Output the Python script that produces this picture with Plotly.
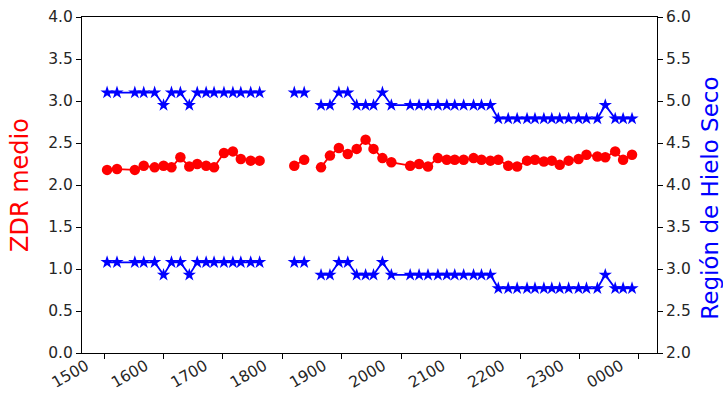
import plotly.graph_objects as go

# Times (HH:MM, day 1 then day 2 after midnight); None values mark missing scans (gaps)
times = ["15:03", "15:13", "15:31", "15:40", "15:51", "16:00", "16:08", "16:17", "16:26",
         "16:34", "16:43", "16:51", "17:01", "17:10", "17:18", "17:28", "17:37",
         "17:55",
         "18:12", "18:22",
         "18:30",
         "18:39", "18:48", "18:57", "19:06", "19:15", "19:24", "19:32", "19:41", "19:50",
         "20:09", "20:18", "20:27", "20:37", "20:46", "20:54", "21:03", "21:13", "21:21",
         "21:30", "21:38", "21:48", "21:57", "22:07", "22:15", "22:24", "22:32", "22:40",
         "22:49", "22:59", "23:07", "23:18", "23:26", "23:36", "23:44", "23:53"]

zdr_medio = [2.18, 2.19, 2.18, 2.23, 2.21, 2.23, 2.21, 2.33, 2.22,
             2.25, 2.23, 2.21, 2.38, 2.40, 2.31, 2.29, 2.29,
             None,
             2.23, 2.30,
             None,
             2.21, 2.35, 2.44, 2.37, 2.43, 2.54, 2.43, 2.32, 2.27,
             2.23, 2.25, 2.22, 2.32, 2.30, 2.30, 2.30, 2.32, 2.30,
             2.29, 2.30, 2.23, 2.22, 2.29, 2.30, 2.28, 2.29, 2.24,
             2.29, 2.31, 2.36, 2.34, 2.33, 2.40, 2.30, 2.36]

hielo_sup = [5.10, 5.10, 5.10, 5.10, 5.10, 4.95, 5.10, 5.10, 4.95,
             5.10, 5.10, 5.10, 5.10, 5.10, 5.10, 5.10, 5.10,
             None,
             5.10, 5.10,
             None,
             4.95, 4.95, 5.10, 5.10, 4.95, 4.95, 4.95, 5.10, 4.95,
             4.95, 4.95, 4.95, 4.95, 4.95, 4.95, 4.95, 4.95, 4.95,
             4.95, 4.79, 4.79, 4.79, 4.79, 4.79, 4.79, 4.79, 4.79,
             4.79, 4.79, 4.79, 4.79, 4.95, 4.79, 4.79, 4.79]

hielo_inf = [3.08, 3.08, 3.08, 3.08, 3.08, 2.93, 3.08, 3.08, 2.93,
             3.08, 3.08, 3.08, 3.08, 3.08, 3.08, 3.08, 3.08,
             None,
             3.08, 3.08,
             None,
             2.93, 2.93, 3.08, 3.08, 2.93, 2.93, 2.93, 3.08, 2.93,
             2.93, 2.93, 2.93, 2.93, 2.93, 2.93, 2.93, 2.93, 2.93,
             2.93, 2.77, 2.77, 2.77, 2.77, 2.77, 2.77, 2.77, 2.77,
             2.77, 2.77, 2.77, 2.77, 2.93, 2.77, 2.77, 2.77]

tick_hours = ["15", "16", "17", "18", "19", "20", "21", "22", "23", "00"]

def to_dt(hm):
    h = int(hm[:2])
    day = "2020-01-01" if h >= 12 else "2020-01-02"
    return f"{day} {hm}:00"

x = [to_dt(t) for t in times]
tickvals = [to_dt(h + ":00") for h in tick_hours]

RED = "#ff0000"
BLUE = "#0000ff"
FONT = "DejaVu Sans"

fig = go.Figure()
fig.add_trace(go.Scatter(x=x, y=zdr_medio, mode="lines+markers", connectgaps=False,
                         line=dict(color=RED, width=1.8),
                         marker=dict(symbol="circle", size=10.5, color=RED),
                         showlegend=False))
fig.add_trace(go.Scatter(x=x, y=hielo_sup, mode="lines+markers", connectgaps=False, yaxis="y2",
                         line=dict(color=BLUE, width=1.8),
                         marker=dict(symbol="star", size=10, color=BLUE),
                         showlegend=False))
fig.add_trace(go.Scatter(x=x, y=hielo_inf, mode="lines+markers", connectgaps=False, yaxis="y2",
                         line=dict(color=BLUE, width=1.8),
                         marker=dict(symbol="star", size=10, color=BLUE),
                         showlegend=False))

axis_common = dict(showline=True, linecolor="black", linewidth=1, ticks="outside",
                   ticklen=5, tickcolor="black", showgrid=False, zeroline=False,
                   automargin=False,
                   tickfont=dict(family=FONT, size=15.5, color="#262626"))

fig.update_layout(
    width=723, height=405,
    margin=dict(l=82, r=66, t=17, b=52),
    paper_bgcolor="white", plot_bgcolor="white",
    xaxis=dict(type="date", range=["2020-01-01 14:37:40", "2020-01-02 00:18:13"],
               tickvals=tickvals, tickformat="%H%M", tickangle=-30, mirror=True,
               ticklabelshift=-18, ticklabelstandoff=-8,
               **axis_common),
    yaxis=dict(range=[0, 4], dtick=0.5, tick0=0, tickformat=".1f", **axis_common),
    yaxis2=dict(range=[2, 6], dtick=0.5, tick0=2, tickformat=".1f", overlaying="y", side="right",
                **axis_common),
    annotations=[
        dict(text="ZDR medio", xref="paper", yref="paper", x=-0.1078, y=0.50,
             xanchor="center", yanchor="middle", textangle=-90, showarrow=False,
             font=dict(family=FONT, size=24, color=RED)),
        dict(text="Región de Hielo Seco", xref="paper", yref="paper", x=1.0925, y=0.46,
             xanchor="center", yanchor="middle", textangle=-90, showarrow=False,
             font=dict(family=FONT, size=23, color=BLUE)),
    ],
)

fig.write_html("out.html", config={"displayModeBar": False},
               post_script="document.body.style.margin='0';")
